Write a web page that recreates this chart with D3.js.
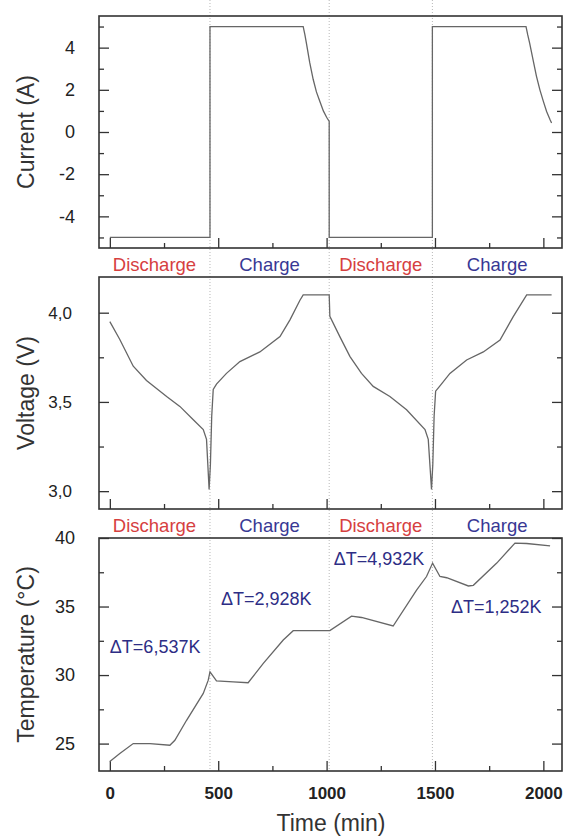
<!DOCTYPE html>
<html lang="en">
<head>
<meta charset="UTF-8">
<title>Cycling current / voltage / temperature</title>
<script src="https://d3js.org/d3.v7.min.js"></script>
<style>
  body { margin: 0; background: #fff; }
  svg { font-family: "Liberation Sans", Arial, sans-serif; }
  .tick line { stroke: #333; stroke-width: 1.3; }
  .tick text { fill: #222; }
</style>
</head>
<body>
<div id="chart"></div>
<script>
// current (A) vs time (min)
const currentTime = [0, 462, 462, 892, 900, 907, 922, 938, 953, 969, 985, 1000, 1012, 1012, 1488, 1488,
                     1920, 1928, 1937, 1953, 1968, 1984, 2000, 2015, 2030, 2038];
const currentVal  = [-5, -5, 5, 5, 4.6, 4.2, 3.3, 2.5, 1.9, 1.45, 1.0, 0.7, 0.5, -5, -5, 5,
                     5, 4.6, 4.2, 3.4, 2.65, 2.0, 1.45, 0.97, 0.6, 0.43];

// voltage (V)
const voltTime = [0, 46, 108, 169, 262, 323, 385, 431, 446, 458, 464, 470, 477, 492, 538, 600, 692, 785, 831, 877, 892, 1012,
                  1015, 1061, 1108, 1161, 1215, 1292, 1369, 1454, 1469, 1484, 1490, 1496, 1503, 1523, 1569, 1646, 1723, 1800, 1861, 1923, 2038];
const voltVal  = [3.95, 3.85, 3.70, 3.62, 3.53, 3.475, 3.40, 3.345, 3.29, 3.01, 3.15, 3.42, 3.57, 3.6, 3.66, 3.726, 3.78, 3.866, 3.96, 4.07, 4.1, 4.1,
                  3.98, 3.866, 3.754, 3.66, 3.587, 3.53, 3.456, 3.345, 3.29, 3.01, 3.15, 3.42, 3.56, 3.59, 3.66, 3.735, 3.78, 3.847, 3.978, 4.1, 4.1];

// temperature (°C)
const tempTime = [0, 46, 108, 185, 277, 300, 354, 431, 454, 462, 492, 569, 638, 708, 800, 846, 1015, 1115, 1161, 1307,
                  1415, 1461, 1489, 1523, 1554, 1654, 1677, 1785, 1869, 1923, 2031];
const tempVal  = [23.7, 24.27, 25.0, 25.0, 24.88, 25.24, 26.7, 28.66, 29.63, 30.24, 29.58, 29.5, 29.44, 30.85, 32.56, 33.24, 33.24, 34.3, 34.2, 33.58,
                  36.2, 37.19, 38.17, 37.19, 37.1, 36.5, 36.55, 38.17, 39.63, 39.6, 39.43];

const phaseEdges  = [462, 1012, 1488];
const phaseLabels = ["Discharge", "Charge", "Discharge", "Charge"];
const deltaLabels = ["\u0394T=6,537K", "\u0394T=2,928K", "\u0394T=4,932K", "\u0394T=1,252K"];
const xTicks = [0, 500, 1000, 1500, 2000];

const W = 564, H = 836;
const left = 99, right = 562;
const panels = [
  { top: 16,  bottom: 248, domain: [-5.5, 5.5], major: [-4, -2, 0, 2, 4], minor: [-5, -3, -1, 1, 3, 5],
    fmt: d => d, label: "Current (A)", t: currentTime, v: currentVal },
  { top: 277, bottom: 509, domain: [2.9, 4.2], major: [3.0, 3.5, 4.0], minor: [3.25, 3.75],
    fmt: d => d.toFixed(1).replace(".", ","), label: "Voltage (V)", t: voltTime, v: voltVal },
  { top: 538, bottom: 771, domain: [23, 40], major: [25, 30, 35, 40], minor: [27.5, 32.5, 37.5],
    fmt: d => d, label: "Temperature (\u00b0C)", t: tempTime, v: tempVal }
];

const svg = d3.select("#chart").append("svg")
  .attr("width", W).attr("height", H);

const x = d3.scaleLinear().domain([-50, 2086]).range([left, right]);

// dotted phase boundaries through the whole figure
svg.selectAll(".edge")
  .data(phaseEdges)
  .enter().append("line")
  .attr("class", "edge")
  .attr("x1", d => x(d)).attr("x2", d => x(d))
  .attr("y1", 0).attr("y2", 771)
  .attr("stroke", "#b8b8b8")
  .attr("stroke-width", 1)
  .attr("stroke-dasharray", "1,2");

const xMinor = [250, 750, 1250, 1750];

panels.forEach((p, i) => {
  const y = d3.scaleLinear().domain(p.domain).range([p.bottom, p.top]);
  const g = svg.append("g");

  // left axis, ticks pointing in
  g.append("g").attr("transform", `translate(${left},0)`)
    .call(d3.axisLeft(y).tickValues(p.major).tickSize(-10).tickPadding(i == 1 ? 27 : 24).tickFormat(p.fmt))
    .call(a => a.select(".domain").remove())
    .selectAll("text").style("font-size", i == 1 ? "17px" : "18px");
  g.append("g").attr("transform", `translate(${left},0)`)
    .call(d3.axisLeft(y).tickValues(p.minor).tickSize(-5).tickFormat(""))
    .call(a => a.select(".domain").remove());

  // right axis
  g.append("g").attr("transform", `translate(${right},0)`)
    .call(d3.axisRight(y).tickValues(p.major).tickSize(-10).tickFormat(""))
    .call(a => a.select(".domain").remove());
  g.append("g").attr("transform", `translate(${right},0)`)
    .call(d3.axisRight(y).tickValues(p.minor).tickSize(-5).tickFormat(""))
    .call(a => a.select(".domain").remove());

  // bottom axis
  const bx = g.append("g").attr("transform", `translate(0,${p.bottom})`)
    .call(d3.axisBottom(x).tickValues(xTicks).tickSize(-10).tickPadding(16)
      .tickFormat(i == 2 ? (d => d) : ""))
    .call(a => a.select(".domain").remove());
  bx.selectAll("text").style("font-size", "17px").style("font-weight", "bold");
  g.append("g").attr("transform", `translate(0,${p.bottom})`)
    .call(d3.axisBottom(x).tickValues(xMinor).tickSize(-5).tickFormat(""))
    .call(a => a.select(".domain").remove());

  // frame
  g.append("rect")
    .attr("x", left).attr("y", p.top)
    .attr("width", right - left).attr("height", p.bottom - p.top)
    .attr("fill", "none").attr("stroke", "#333").attr("stroke-width", 1.6);

  // data line
  const pts = p.t.map((t, k) => [t, p.v[k]]);
  g.append("path")
    .datum(pts)
    .attr("fill", "none")
    .attr("stroke", "#666")
    .attr("stroke-width", 1.3)
    .attr("d", d3.line().x(d => x(d[0])).y(d => y(d[1])));

  // y label
  g.append("text")
    .attr("transform", `translate(34,${(p.top + p.bottom) / 2}) rotate(-90)`)
    .attr("text-anchor", "middle")
    .style("font-size", "23px")
    .attr("fill", "#333")
    .text(p.label);

  p.y = y;
});

// phase labels under the top and middle panels
const bounds = [x.domain()[0], ...phaseEdges, x.domain()[1]];
[panels[0].bottom, panels[1].bottom].forEach(b => {
  svg.selectAll(null)
    .data(phaseLabels)
    .enter().append("text")
    .attr("x", (d, k) => (x(bounds[k]) + x(bounds[k + 1])) / 2)
    .attr("y", b + 23)
    .attr("text-anchor", "middle")
    .style("font-size", "18.5px")
    .attr("fill", d => d == "Discharge" ? "#d6403f" : "#383894")
    .text(d => d);
});

// delta T annotations (time, temperature at baseline)
const deltaAt = [[209, 31.6], [722, 35.1], [1242, 38.06], [1783, 34.56]];
const yT = panels[2].y;
svg.selectAll(".delta")
  .data(deltaLabels)
  .enter().append("text")
  .attr("class", "delta")
  .attr("x", (d, k) => x(deltaAt[k][0]))
  .attr("y", (d, k) => yT(deltaAt[k][1]))
  .attr("text-anchor", "middle")
  .style("font-size", "18px")
  .attr("fill", "#2d2d85")
  .text(d => d);

// x label
svg.append("text")
  .attr("x", 331).attr("y", 831)
  .attr("text-anchor", "middle")
  .style("font-size", "23px")
  .attr("fill", "#333")
  .text("Time (min)");
</script>
</body>
</html>
